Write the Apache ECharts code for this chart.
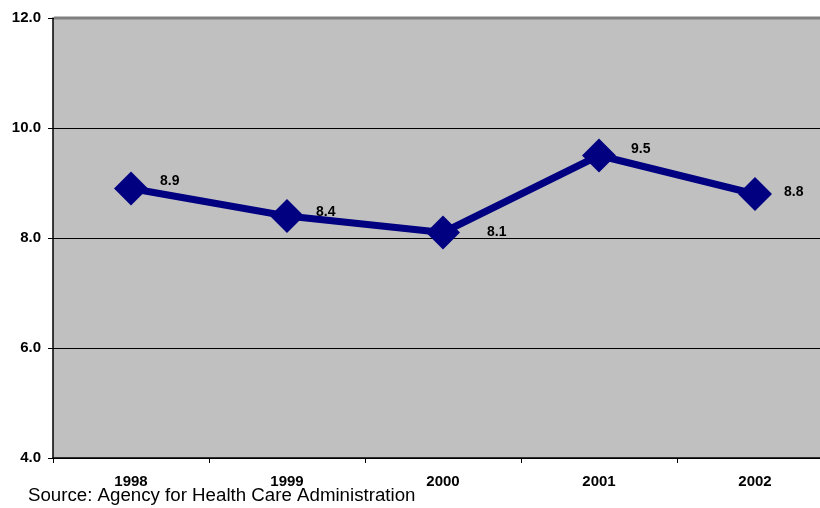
<!DOCTYPE html>
<html>
<head>
<meta charset="utf-8">
<script src="https://cdn.jsdelivr.net/npm/echarts@6/dist/echarts.min.js"></script>
<style>
  html, body { margin: 0; padding: 0; background: #fff; }
  #chart { width: 820px; height: 508px; }
</style>
</head>
<body>
<div id="chart"></div>
<script>
// 数据
const years = ["1998", "1999", "2000", "2001", "2002"];
const values = [8.9, 8.4, 8.1, 9.5, 8.8];
const yTicks = [4, 6, 8, 10, 12];
// 标签偏移 (Excel 自动摆放)
const labelOffsets = [[7, -7], [7, -4], [22, 0], [10, -6], [7, -2]];

const myChart = echarts.init(document.getElementById("chart"));
const option = {
  animation: false,
  grid: {
    left: 53, width: 780, top: 18, bottom: 50,
    outerBoundsMode: "none", containLabel: false,
    backgroundColor: "#C0C0C0", show: true, borderWidth: 0,
  },
  xAxis: {
    type: "category",
    data: years,
    boundaryGap: true,
    axisLine: { lineStyle: { color: "#000", width: 1.5 } },
    axisTick: { show: true, length: 5, lineStyle: { color: "#000" } },
    axisLabel: { color: "#000", fontWeight: "bold", fontSize: 15, fontFamily: "Liberation Sans, Arial", margin: 16 },
  },
  yAxis: {
    type: "value",
    min: yTicks[0],
    max: yTicks[yTicks.length - 1],
    interval: 2,
    axisLine: { show: true, lineStyle: { color: "#000", width: 1.5 } },
    axisTick: { show: true, length: 5, lineStyle: { color: "#000" } },
    axisLabel: { color: "#000", fontWeight: "bold", fontSize: 15, fontFamily: "Liberation Sans, Arial", margin: 12, formatter: (v) => v.toFixed(1) },
    splitLine: { lineStyle: { color: "#000", width: 1 } },
  },
  graphic: [
    { type: "line", z: 100, shape: { x1: 54, y1: 18, x2: 820, y2: 18 }, style: { stroke: "#808080", lineWidth: 3 } },
    { type: "text", left: 28, top: 486, style: { text: "Source: Agency for Health Care Administration", fontSize: 18.7, fontFamily: "Liberation Sans, Arial", fill: "#000" } },
  ],
  series: [
    {
      type: "line",
      data: values.map((v, i) => ({ value: v, label: { offset: labelOffsets[i] } })),
      symbol: "rect",
      symbolSize: 24,
      symbolRotate: 45,
      lineStyle: { color: "#000080", width: 7 },
      itemStyle: { color: "#000080" },
      label: {
        show: true,
        position: "right",
        color: "#000",
        fontWeight: "bold",
        fontSize: 14,
        fontFamily: "Liberation Sans, Arial",
        formatter: (p) => p.value.toFixed(1),
      },
    },
  ],
};
myChart.setOption(option);
</script>
</body>
</html>
